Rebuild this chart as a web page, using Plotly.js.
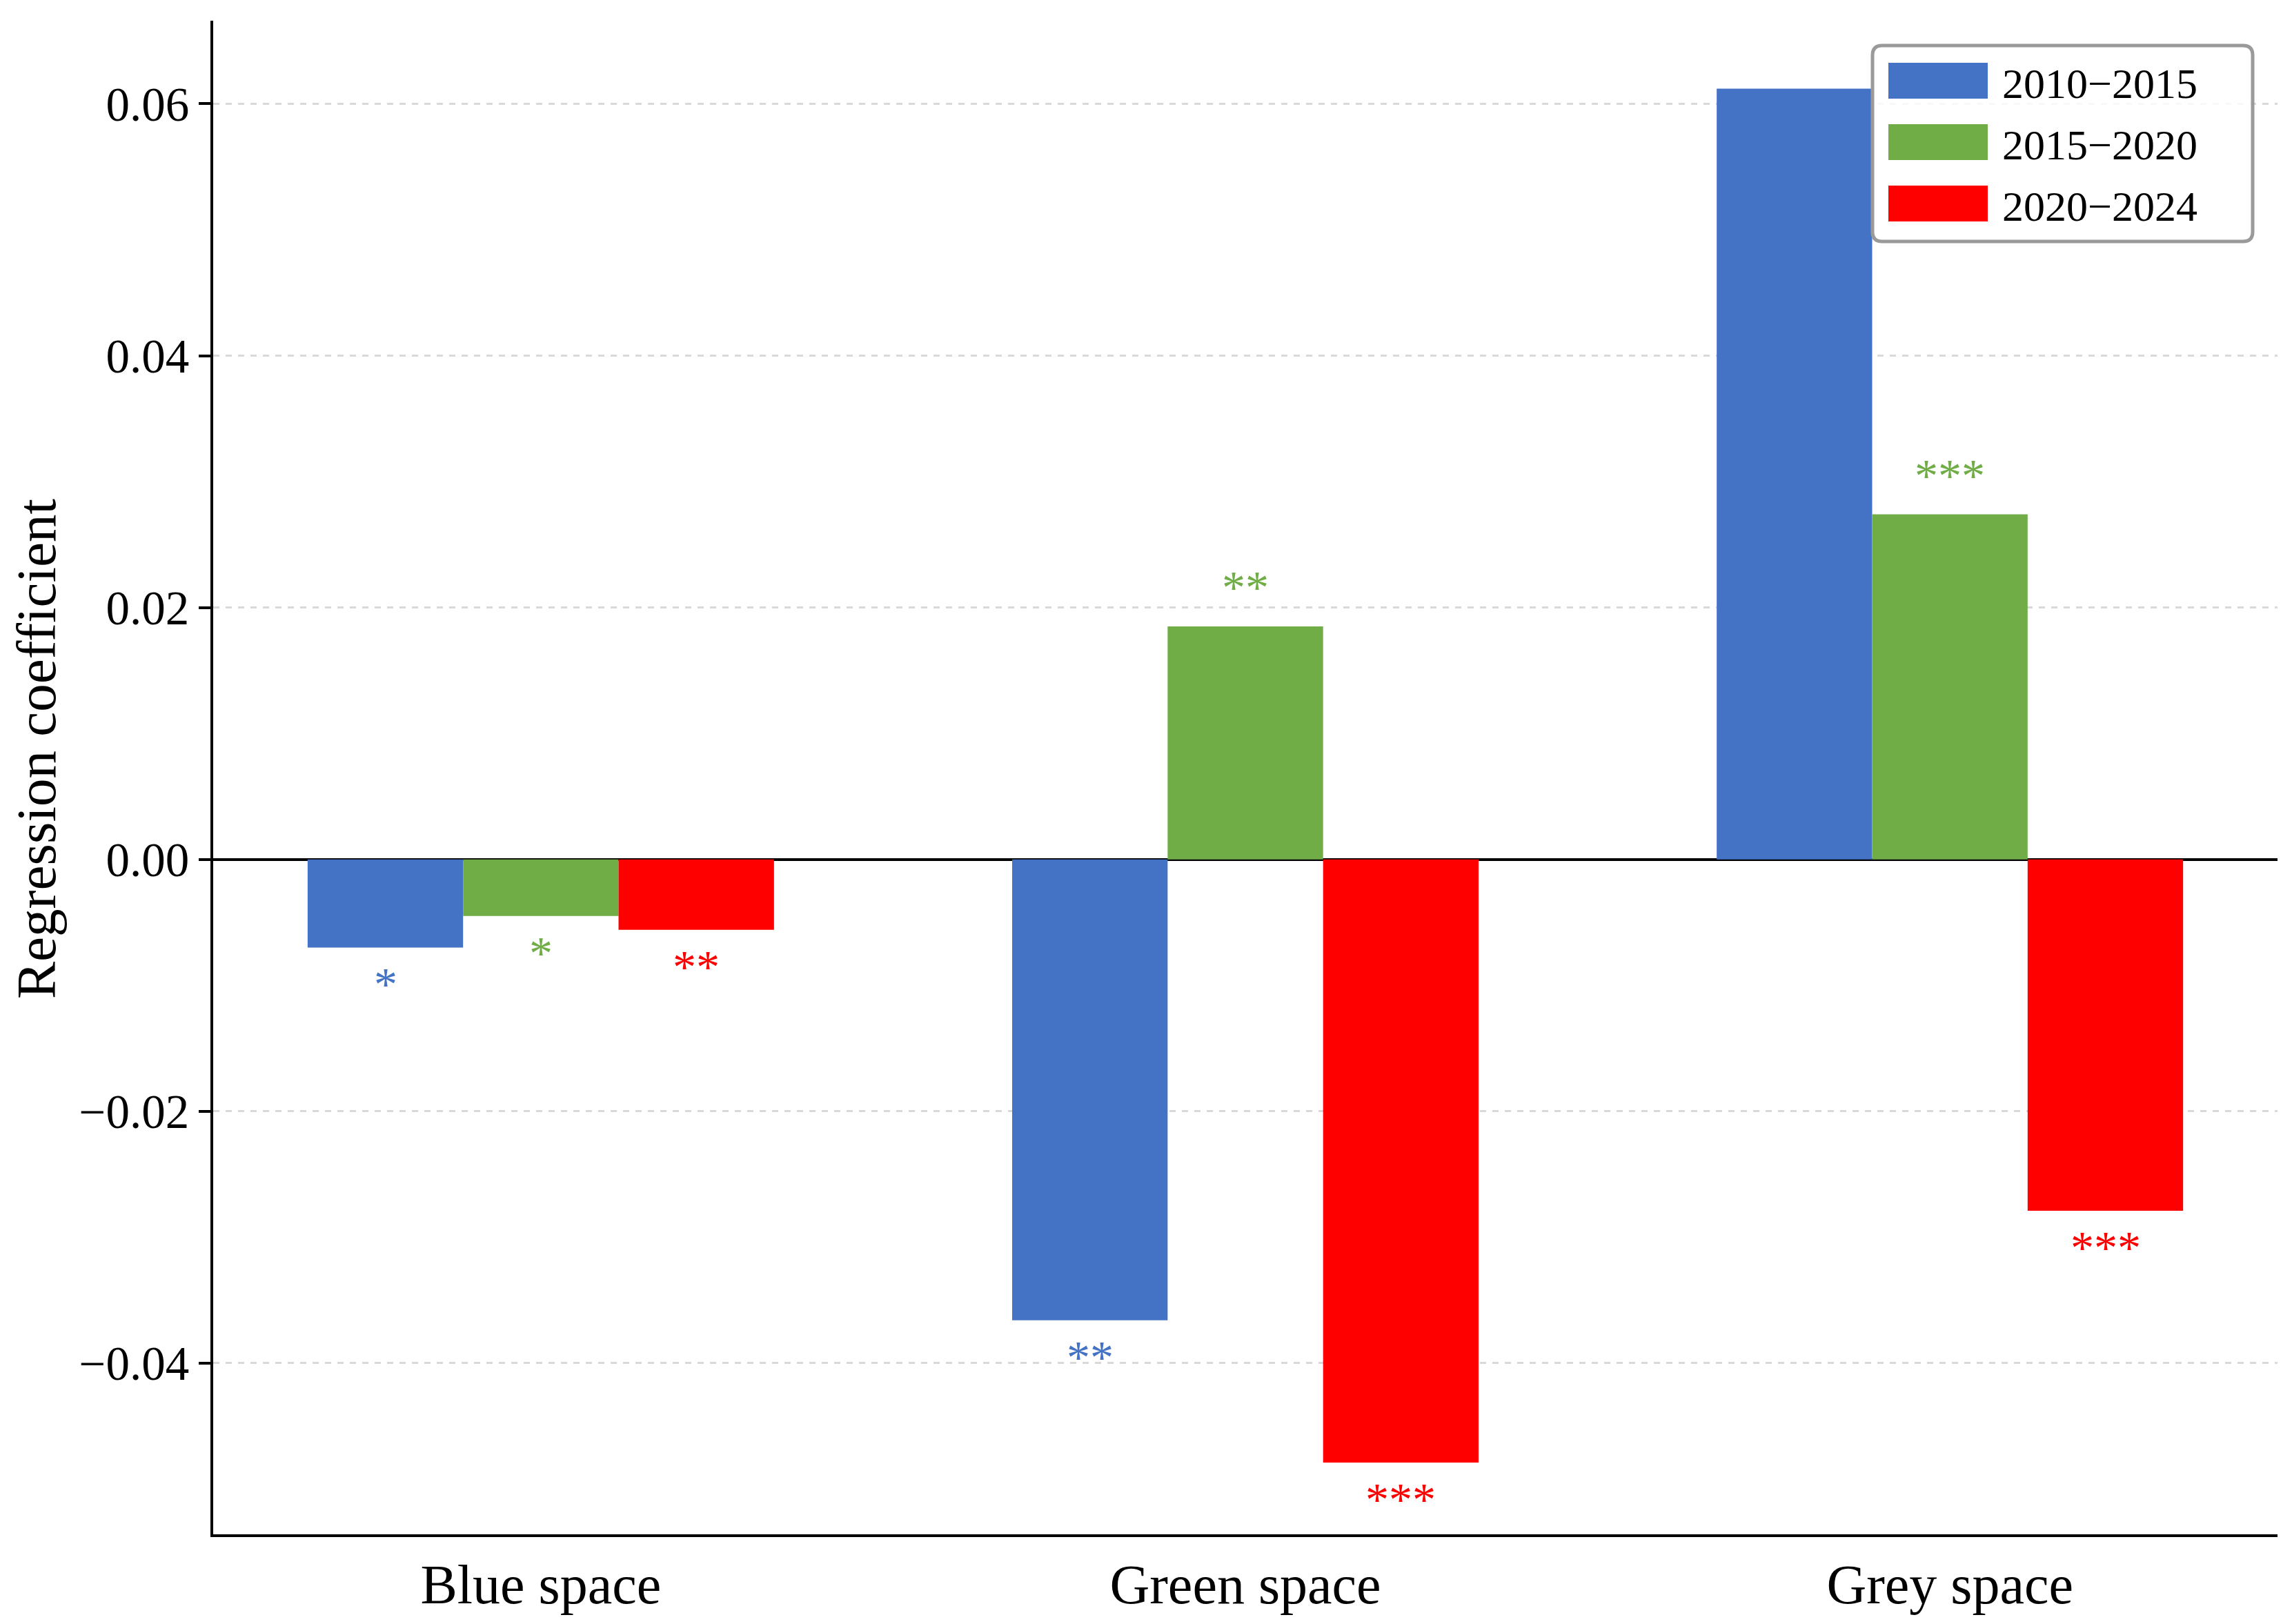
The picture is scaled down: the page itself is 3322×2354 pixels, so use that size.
<!DOCTYPE html>
<html>
<head>
<meta charset="utf-8">
<script src="https://cdn.plot.ly/plotly-3.0.1.min.js"></script>
<style>
  html, body { margin: 0; padding: 0; background: #fff; }
  #chart { width: 3322px; height: 2354px; }
</style>
</head>
<body>
<div id="chart"></div>
<script>
// chart values
var categories = ['Blue space', 'Green space', 'Grey space'];
var periods = ['2010\u22122015', '2015\u22122020', '2020\u22122024'];
var coef2010 = [-0.0070, -0.0366, 0.0612];
var coef2015 = [-0.0045, 0.0185, 0.0274];
var coef2020 = [-0.0056, -0.0479, -0.0279];
var stars2010 = ['*', '**', ''];
var stars2015 = ['*', '**', '***'];
var stars2020 = ['**', '***', '***'];
var yTicks = [-0.04, -0.02, 0.00, 0.02, 0.04, 0.06];

var colors = ['#4472C4', '#70AD47', '#FF0000'];
var font = 'Liberation Serif, Times New Roman, serif';

var W = 3322, H = 2354;
var margin = { l: 309, r: 21, t: 30, b: 130 };
var plotW = W - margin.l - margin.r;
var plotH = H - margin.t - margin.b;
function px(x) { return (x - margin.l) / plotW; }
function py(y) { return (H - margin.b - y) / plotH; }

var series = [coef2010, coef2015, coef2020];
var stars = [stars2010, stars2015, stars2020];
var bargap = 0.338;
var barW = (1 - bargap) / series.length;

var data = [];
for (var i = 0; i < series.length; i++) {
  data.push({
    type: 'bar',
    name: periods[i],
    x: categories,
    y: series[i],
    marker: { color: colors[i], line: { width: 0 } },
    showlegend: false,
    hoverinfo: 'x+y'
  });
}

var annotations = [];
for (var i = 0; i < series.length; i++) {
  for (var j = 0; j < categories.length; j++) {
    if (!stars[i][j]) continue;
    var neg = series[i][j] < 0;
    annotations.push({
      xref: 'x', yref: 'y',
      x: j + (i - 1) * barW,
      y: series[i][j],
      text: stars[i][j],
      showarrow: false,
      xanchor: 'center',
      yanchor: neg ? 'top' : 'bottom',
      yshift: neg ? -13 : 17,
      font: { family: font, size: 68, color: colors[i] }
    });
  }
}

// y axis title, placed by hand to sit where the reference has it
annotations.push({
  xref: 'paper', yref: 'paper',
  x: px(53), y: py(1085),
  xanchor: 'center', yanchor: 'middle',
  textangle: -90,
  text: 'Regression coefficient',
  showarrow: false,
  font: { family: font, size: 81, color: '#000' }
});

// legend drawn by hand so the swatches can be wide
var shapes = [];
var bx0 = 2714, bx1 = 3265, by0 = 66, by1 = 350, r = 14;
var rx = r / plotW, ry = r / plotH;
var X0 = px(bx0), X1 = px(bx1), Y0 = py(by0), Y1 = py(by1);
shapes.push({
  type: 'path', xref: 'paper', yref: 'paper', layer: 'above',
  path: 'M' + (X0 + rx) + ',' + Y0 +
        ' L' + (X1 - rx) + ',' + Y0 + ' Q' + X1 + ',' + Y0 + ' ' + X1 + ',' + (Y0 - ry) +
        ' L' + X1 + ',' + (Y1 + ry) + ' Q' + X1 + ',' + Y1 + ' ' + (X1 - rx) + ',' + Y1 +
        ' L' + (X0 + rx) + ',' + Y1 + ' Q' + X0 + ',' + Y1 + ' ' + X0 + ',' + (Y1 + ry) +
        ' L' + X0 + ',' + (Y0 - ry) + ' Q' + X0 + ',' + Y0 + ' ' + (X0 + rx) + ',' + Y0 + ' Z',
  fillcolor: 'rgba(255,255,255,0.8)',
  line: { color: '#9a9a9a', width: 5 }
});
var rowY = [117, 206, 295];
for (var i = 0; i < periods.length; i++) {
  shapes.push({
    type: 'rect', xref: 'paper', yref: 'paper', layer: 'above',
    x0: px(2737), x1: px(2881), y0: py(rowY[i] - 26), y1: py(rowY[i] + 26),
    fillcolor: colors[i], line: { width: 0 }
  });
  annotations.push({
    xref: 'paper', yref: 'paper',
    x: px(2900), y: py(rowY[i] + 4),
    xanchor: 'left', yanchor: 'middle',
    text: periods[i], showarrow: false,
    font: { family: font, size: 62, color: '#000' }
  });
}

var layout = {
  width: W,
  height: H,
  margin: margin,
  paper_bgcolor: '#fff',
  plot_bgcolor: '#fff',
  barmode: 'group',
  bargap: bargap,
  bargroupgap: 0,
  showlegend: false,
  font: { family: font, color: '#000' },
  xaxis: {
    type: 'category',
    range: [-0.465, 2.465],
    showline: true,
    linecolor: '#000',
    linewidth: 4,
    showgrid: false,
    zeroline: false,
    ticks: '',
    ticklabelstandoff: 0,
    tickfont: { family: font, size: 80, color: '#000' },
    automargin: false
  },
  yaxis: {
    range: [-0.0536, 0.0666],
    tickvals: yTicks,
    tickformat: '.2f',
    showline: true,
    linecolor: '#000',
    linewidth: 4,
    ticks: 'outside',
    ticklen: 17,
    tickwidth: 4,
    tickcolor: '#000',
    tickfont: { family: font, size: 69, color: '#000' },
    showgrid: true,
    gridcolor: '#d9d9d9',
    gridwidth: 3,
    griddash: 'dash',
    zeroline: true,
    zerolinecolor: '#000',
    zerolinewidth: 4,
    automargin: false
  },
  annotations: annotations,
  shapes: shapes
};

Plotly.newPlot('chart', data, layout, { displayModeBar: false, staticPlot: true });
</script>
</body>
</html>
